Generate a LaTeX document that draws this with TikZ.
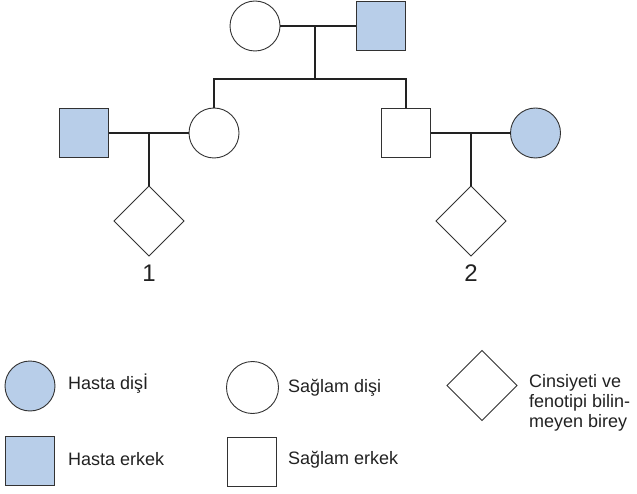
\documentclass[tikz,border=0pt]{standalone}
\usepackage{fontspec}
\setmainfont{Liberation Sans}
\usetikzlibrary{shapes.geometric}
\definecolor{sick}{RGB}{184,206,233}
\definecolor{ink}{RGB}{34,34,34}
\definecolor{edge}{RGB}{50,50,50}
\tikzset{
  base/.style={draw=edge, line width=0.9pt, inner sep=0pt, outer sep=0pt},
  fem/.style={base, circle, minimum size=50pt},
  mal/.style={base, rectangle, minimum width=49pt, minimum height=49pt},
  unk/.style={base, diamond, minimum size=70pt},
  ill/.style={fill=sick},
  link/.style={draw=ink, line width=1.4pt},
  num/.style={text=ink, font=\fontsize{24}{28}\selectfont, inner sep=0pt},
  lbl/.style={text=ink, font=\fontsize{18}{20}\selectfont, inner sep=0pt, anchor=west, align=left}
}
\begin{document}
\begin{tikzpicture}[x=1pt,y=-1pt]
\useasboundingbox[fill=white] (0,0) rectangle (637,494);
% generation I
\node[fem] (gm) at (255,26) {};
\node[mal, ill] (gf) at (380.5,26) {};
\coordinate (m1) at (315,26);
\coordinate (sib) at (315,79);
% generation II
\node[mal, ill] (lf) at (84,133) {};
\node[fem] (lm) at (214,133) {};
\node[mal] (rf) at (406,133) {};
\node[fem, ill] (rm) at (535.5,133) {};
\coordinate (m2) at (149,133);
\coordinate (m3) at (471,133);
% generation III
\node[unk] (c1) at (149,221) {};
\node[unk] (c2) at (471,221) {};
\node[num] (n1) at (149,273) {1};
\node[num] (n2) at (471,273) {2};
% connectors
\draw[link] (gm.east) -- (gf.west);
\draw[link] (m1) -- (sib);
\draw[link] (lm.north) |- (sib) -| (rf.north);
\draw[link] (lf.east) -- (lm.west);
\draw[link] (m2) -- (c1.north);
\draw[link] (rf.east) -- (rm.west);
\draw[link] (m3) -- (c2.north);
% legend
\node[fem, ill] (k1) at (30,386) {};
\node[lbl] (t1) at (68,384) {Hasta dişİ};
\node[mal, ill] (k2) at (30,460.5) {};
\node[lbl] (t2) at (68,459) {Hasta erkek};
\node[fem, minimum size=52pt] (k3) at (252.5,387.5) {};
\node[lbl] (t3) at (288,388) {Sağlam dişi};
\node[mal] (k4) at (251.5,462) {};
\node[lbl] (t4) at (288,460) {Sağlam erkek};
\node[unk] (k5) at (482,385.5) {};
\node[lbl] (t5) at (529,403) {Cinsiyeti ve\\fenotipi bilin-\\meyen birey};
\end{tikzpicture}
\end{document}
